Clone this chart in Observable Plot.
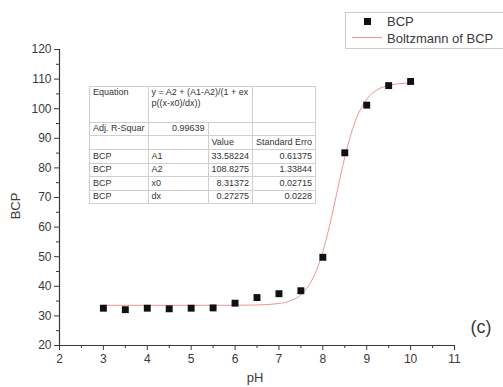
<!DOCTYPE html>
<html>
<head>
<meta charset="utf-8">
<script src="https://cdn.jsdelivr.net/npm/d3@7"></script>
<script src="https://cdn.jsdelivr.net/npm/@observablehq/plot@0.6"></script>
<style>
  html, body { margin: 0; padding: 0; background: #fff; }
  #wrap { position: relative; width: 503px; height: 387px; overflow: hidden; font-family: Arial, "Liberation Sans", sans-serif; }
  .lbl { position: absolute; color: #3a3a3a; font-family: Arial, "Liberation Sans", sans-serif; white-space: nowrap; }
  #fit { position: absolute; left: 89px; top: 86px; border-collapse: collapse; font-size: 9px; color: #333; table-layout: fixed; }
  #fit td { border: 1px solid #cfcfcf; padding: 0 3px; vertical-align: top; line-height: 11px; overflow: hidden; white-space: nowrap; }
  #fit td.n { text-align: right; }
  #legend { position: absolute; left: 345px; top: 12px; width: 170px; height: 35px; border: 1px solid #cccccc; background: #fff; }
</style>
</head>
<body>
<div id="wrap"></div>
<script>
// Measured points
const pH = [3, 3.5, 4, 4.5, 5, 5.5, 6, 6.5, 7, 7.5, 8, 8.5, 9, 9.5, 10];
const bcp = [32.6, 32.1, 32.6, 32.4, 32.6, 32.7, 34.3, 36.2, 37.5, 38.5, 49.8, 85.1, 101.2, 107.8, 109.2];

// Boltzmann fit curve
const fitX = [3, 4, 5, 6, 6.5, 7, 7.25, 7.5, 7.75, 7.9, 8, 8.1, 8.2, 8.3, 8.4, 8.5, 8.6, 8.75, 9, 9.25, 9.5, 9.75, 10];
const fitY = [33.58, 33.58, 33.58, 33.6, 33.68, 34.18, 35.07, 37.2, 42.04, 47.12, 51.68, 57.18, 63.47, 70.26, 77.11, 83.58, 89.32, 96.18, 103.21, 106.48, 107.87, 108.45, 108.67];

// Ticks
const xTicks = [2, 3, 4, 5, 6, 7, 8, 9, 10, 11];
const xMinor = [2.5, 3.5, 4.5, 5.5, 6.5, 7.5, 8.5, 9.5, 10.5];
const yTicks = [20, 30, 40, 50, 60, 70, 80, 90, 100, 110, 120];
const yMinor = [25, 35, 45, 55, 65, 75, 85, 95, 105, 115];

// Fit table
const eqText = ["y = A2 + (A1-A2)/(1 + ex", "p((x-x0)/dx))"];
const adjR2 = "0.99639";
const paramNames = ["A1", "A2", "x0", "dx"];
const paramValues = ["33.58224", "108.8275", "8.31372", "0.27275"];
const paramErrors = ["0.61375", "1.33844", "0.02715", "0.0228"];

const points = pH.map((x, i) => ({x, y: bcp[i]}));
const fit = fitX.map((x, i) => ({x, y: fitY[i]}));

const axisColor = "#3a3a3a";
const chart = Plot.plot({
  width: 503,
  height: 387,
  marginLeft: 59,
  marginRight: 49,
  marginTop: 49,
  marginBottom: 42,
  style: {fontFamily: "Arial, 'Liberation Sans', sans-serif", fontSize: "12px", color: axisColor, background: "transparent"},
  x: {domain: [2, 11]},
  y: {domain: [20, 120]},
  marks: [
    Plot.axisX(xTicks, {tickSize: 5, tickPadding: 4, fontSize: 12, label: null, stroke: axisColor, fill: axisColor}),
    Plot.axisX(xMinor, {tickSize: 3, text: null, label: null, stroke: axisColor}),
    Plot.axisY(yTicks, {tickSize: 5, tickPadding: 3, fontSize: 12, label: null, stroke: axisColor, fill: axisColor}),
    Plot.axisY(yMinor, {tickSize: 3, text: null, label: null, stroke: axisColor}),
    Plot.ruleY([20], {stroke: axisColor, strokeWidth: 1.2}),
    Plot.ruleX([2], {stroke: axisColor, strokeWidth: 1.2}),
    Plot.line(fit, {x: "x", y: "y", stroke: "#ee9494", strokeWidth: 1, curve: "monotone-x"}),
    Plot.dot(points, {x: "x", y: "y", symbol: "square", r: 3.9, fill: "#111", stroke: "none"})
  ]
});

const wrap = document.getElementById("wrap");
chart.style.position = "absolute";
chart.style.left = "0px";
chart.style.top = "0px";
wrap.appendChild(chart);

function addLabel(text, css) {
  const d = document.createElement("div");
  d.className = "lbl";
  d.textContent = text;
  Object.assign(d.style, css);
  wrap.appendChild(d);
  return d;
}
addLabel("BCP", {left: "15px", top: "206px", fontSize: "13px", transform: "translate(-50%,-50%) rotate(-90deg)"});
addLabel("pH", {left: "255px", top: "377px", fontSize: "13px", transform: "translate(-50%,-50%)"});
addLabel("(c)", {left: "481px", top: "327px", fontSize: "18px", transform: "translate(-50%,-50%)"});

// Fit table
const tbl = document.createElement("table");
tbl.id = "fit";
const colW = [55, 60, 43, 55];
const cg = document.createElement("colgroup");
colW.forEach(w => { const c = document.createElement("col"); c.style.width = w + "px"; cg.appendChild(c); });
tbl.appendChild(cg);
function row(h, cells) {
  const tr = document.createElement("tr");
  tr.style.height = h + "px";
  cells.forEach(c => {
    const td = document.createElement("td");
    if (c.html) td.innerHTML = c.html; else td.textContent = c.t || "";
    if (c.n) td.className = "n";
    if (c.span) td.colSpan = c.span;
    if (c.va) td.style.verticalAlign = c.va;
    tr.appendChild(td);
  });
  tbl.appendChild(tr);
}
row(36, [{t: "Equation", va: "top"}, {html: eqText.join("<br>"), span: 2}, {t: ""}]);
row(13, [{t: "Adj. R-Squar"}, {t: adjR2, n: true}, {t: ""}, {t: ""}]);
row(14, [{t: ""}, {t: ""}, {t: "Value", va: "middle"}, {t: "Standard Erro", va: "middle"}]);
paramNames.forEach((p, i) => {
  row(13.5, [{t: "BCP", va: "middle"}, {t: p, va: "middle"}, {t: paramValues[i], n: true, va: "middle"}, {t: paramErrors[i], n: true, va: "middle"}]);
});
wrap.appendChild(tbl);

// Legend
const lg = document.createElement("div");
lg.id = "legend";
wrap.appendChild(lg);
const sq = document.createElement("div");
Object.assign(sq.style, {position: "absolute", left: "364px", top: "18px", width: "7px", height: "7px", background: "#111"});
wrap.appendChild(sq);
const ln = document.createElement("div");
Object.assign(ln.style, {position: "absolute", left: "352px", top: "37px", width: "30px", height: "1px", background: "#ee9494"});
wrap.appendChild(ln);
addLabel("BCP", {left: "387px", top: "21px", fontSize: "13px", transform: "translate(0,-50%)"});
addLabel("Boltzmann of BCP", {left: "387px", top: "38px", fontSize: "13px", transform: "translate(0,-50%)"});
</script>
</body>
</html>
